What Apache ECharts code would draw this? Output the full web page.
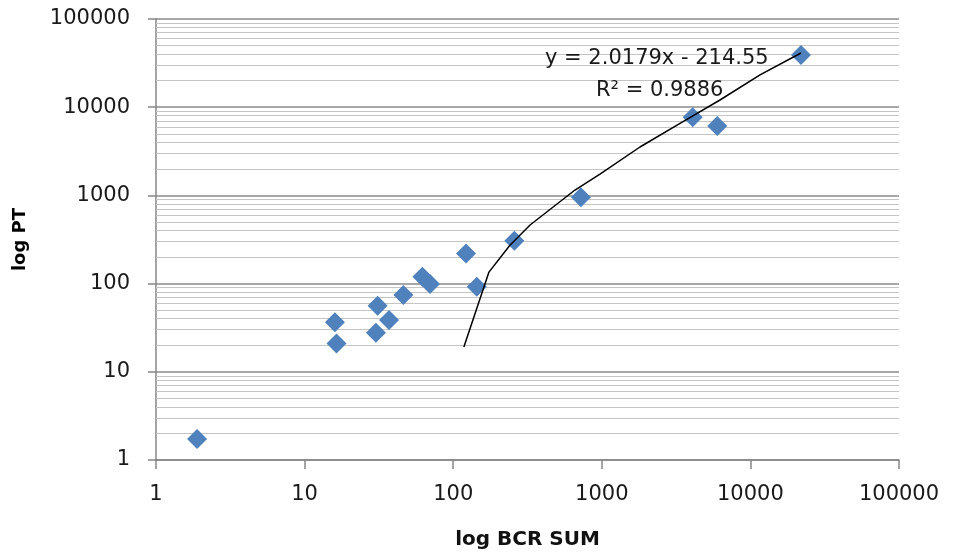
<!DOCTYPE html>
<html>
<head>
<meta charset="utf-8">
<script src="https://cdn.jsdelivr.net/npm/echarts@6/dist/echarts.min.js"></script>
<style>html,body{margin:0;padding:0;background:#fff}#c{width:954px;height:557px}</style>
</head>
<body>
<div id="c"></div>
<script>
// Data
var bcrSum = [1.89, 16.0, 16.4, 31.0, 30.2, 37.0, 46.2, 62.0, 69.8, 122, 144, 258, 724, 4090, 5985, 21900];
var ptVals = [1.73, 36.4, 21.0, 56.2, 27.8, 38.7, 74.3, 119.8, 99, 220, 92.2, 307, 951, 7680, 6120, 39000];
// Trend line vertices as drawn in the picture
var trendX = [118, 174, 240, 329, 660, 972, 1807, 3360, 6240, 11610, 21900];
var trendY = [19.1, 135, 270, 462, 1151, 1747, 3538, 6566, 12070, 23213, 41200];
// Minor gridline values (2..9 within each decade)
var minorGrid = [2,3,4,5,6,7,8,9, 20,30,40,50,60,70,80,90, 200,300,400,500,600,700,800,900,
                 2000,3000,4000,5000,6000,7000,8000,9000, 20000,30000,40000,50000,60000,70000,80000,90000];
var eqText = 'y = 2.0179x - 214.55';
var r2Text = 'R\u00B2 = 0.9886';

var FONT = 'DejaVu Sans';
var chart = echarts.init(document.getElementById('c'), null, {renderer: 'canvas'});
var pts = bcrSum.map(function (x, i) { return [x, ptVals[i]]; });
var trend = trendX.map(function (x, i) { return [x, trendY[i]]; });
function fmt(v) { return String(Math.round(v)); }

chart.setOption({
  animation: false,
  backgroundColor: '#ffffff',
  grid: {left: 156, top: 19, right: 55, bottom: 97, containLabel: false, outerBoundsMode: 'none'},
  xAxis: {
    type: 'log', logBase: 10, min: 1, max: 100000,
    name: 'log BCR SUM', nameLocation: 'middle', nameGap: 70,
    nameTextStyle: {fontFamily: FONT, fontSize: 20, fontWeight: 'bold', color: '#111'},
    axisLine: {show: true, lineStyle: {color: '#868686', width: 1.5}},
    axisTick: {show: true, length: 9, lineStyle: {color: '#868686', width: 1.5}},
    axisLabel: {fontFamily: FONT, fontSize: 21, color: '#1a1a1a', margin: 24, formatter: fmt},
    splitLine: {show: false},
    minorTick: {show: false}
  },
  yAxis: {
    type: 'log', logBase: 10, min: 1, max: 100000,
    name: 'log PT', nameLocation: 'middle', nameGap: 127, nameRotate: 90,
    nameTextStyle: {fontFamily: FONT, fontSize: 18, fontWeight: 'bold', color: '#000'},
    axisLine: {show: true, lineStyle: {color: '#868686', width: 1.5}},
    axisTick: {show: true, length: 8, lineStyle: {color: '#868686', width: 1.5}},
    axisLabel: {fontFamily: FONT, fontSize: 21, color: '#1a1a1a', margin: 26, formatter: fmt},
    splitLine: {show: true, lineStyle: {color: '#8a8a8a', width: 1.5}},
    minorTick: {show: false}
  },
  series: [
    {
      type: 'scatter',
      data: pts,
      symbol: 'diamond',
      symbolSize: [20, 20],
      itemStyle: {color: '#4f81bd', opacity: 1},
      z: 3,
      markLine: {
        silent: true,
        symbol: 'none',
        label: {show: false},
        lineStyle: {color: '#c4c4c4', width: 1.2, type: 'solid'},
        data: minorGrid.map(function (v) { return {yAxis: v}; }),
        z: 1
      }
    },
    {
      type: 'line',
      data: trend,
      showSymbol: false,
      symbol: 'none',
      lineStyle: {color: '#000', width: 1.5},
      z: 5
    }
  ],
  graphic: [
    {type: 'text', left: 545, top: 48, z: 100,
     style: {text: eqText, fontFamily: FONT, fontSize: 21, fill: '#1a1a1a'}},
    {type: 'text', left: 596, top: 80, z: 100,
     style: {text: r2Text, fontFamily: FONT, fontSize: 21, fill: '#1a1a1a'}}
  ]
});
</script>
</body>
</html>
